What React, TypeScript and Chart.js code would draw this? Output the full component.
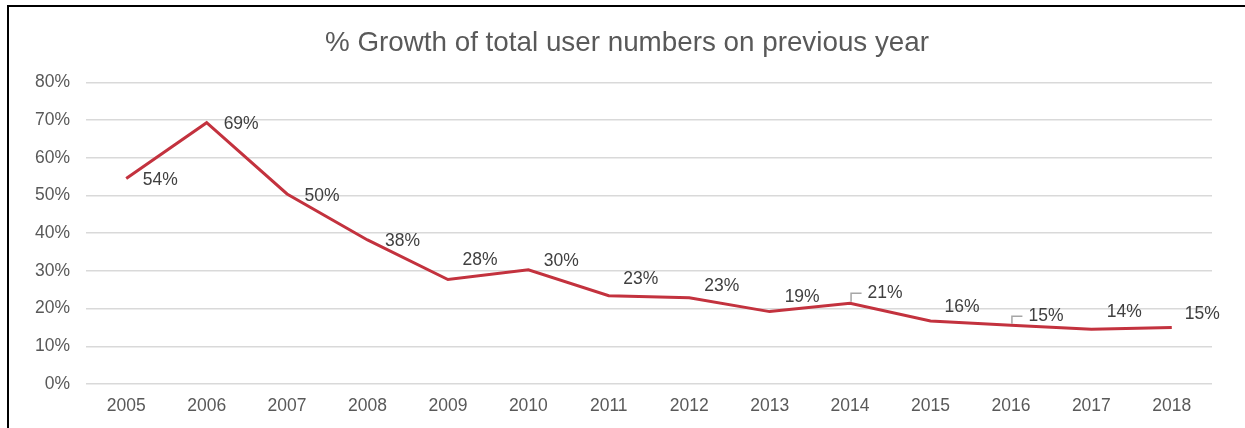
import React, { useEffect, useRef } from "react";
import { Chart, registerables } from "chart.js";

Chart.register(...registerables);

const years = ["2005", "2006", "2007", "2008", "2009", "2010", "2011", "2012", "2013", "2014", "2015", "2016", "2017", "2018"];
const growth = [54.5, 69.3, 50.4, 38.2, 27.7, 30.3, 23.4, 22.9, 19.2, 21.4, 16.7, 15.6, 14.5, 15.0];
const labels = ["54%", "69%", "50%", "38%", "28%", "30%", "23%", "23%", "19%", "21%", "16%", "15%", "14%", "15%"];
const titleText = "% Growth of total user numbers on previous year";

// label placement relative to each point (dx, dy), and which labels use a leader line
const labelDx = [34, 34.5, 35, 35, 32, 33, 32, 32.5, 32.5, 35, 31.6, 35, 33, 30.4];
const labelDy = [2, 1, 2, 1, -19, -9, -17, -11.6, -14.5, -10, -14, -9, -17, -13.4];
const leaderIdx = [9, 11];

const FONT = "'Liberation Sans', Arial, sans-serif";

const labelPlugin = {
  id: "pointLabels",
  afterDatasetsDraw(chart: any) {
    const ctx = chart.ctx;
    const meta = chart.getDatasetMeta(0);
    ctx.save();
    ctx.font = `17.5px ${FONT}`;
    ctx.textAlign = "center";
    ctx.textBaseline = "middle";
    meta.data.forEach((pt: any, i: number) => {
      const lx = pt.x + labelDx[i];
      const ly = pt.y + labelDy[i];
      if (leaderIdx.includes(i)) {
        const w = ctx.measureText(labels[i]).width;
        ctx.strokeStyle = "#a6a6a6";
        ctx.lineWidth = 1.5;
        ctx.beginPath();
        ctx.moveTo(pt.x + 1, pt.y - 1.5);
        ctx.lineTo(pt.x + 1, ly);
        ctx.lineTo(lx - w / 2 - 6, ly);
        ctx.stroke();
      }
      ctx.fillStyle = "#404040";
      ctx.fillText(labels[i], lx, ly);
    });
    ctx.restore();
  },
};

export default function App() {
  const ref = useRef<HTMLCanvasElement | null>(null);

  useEffect(() => {
    if (!ref.current) return;
    const chart = new Chart(ref.current, {
      type: "line",
      data: {
        labels: years,
        datasets: [
          {
            data: growth,
            borderColor: "#C3323E",
            borderWidth: 3,
            pointRadius: 0,
            tension: 0,
            fill: false,
            yAxisID: "y",
          },
        ],
      },
      options: {
        responsive: false,
        animation: false,
        layout: { padding: 0 },
        plugins: {
          legend: { display: false },
          tooltip: { enabled: false },
          title: {
            display: true,
            text: titleText,
            color: "#595959",
            font: { family: FONT, size: 27.8, weight: "normal" },
            padding: { top: 20, bottom: 22 },
          },
        },
        scales: {
          x: {
            type: "category",
            offset: true,
            grid: { display: false, drawTicks: false },
            border: { display: false },
            ticks: {
              color: "#595959",
              font: { family: FONT, size: 17.5 },
              padding: 11.5,
              maxRotation: 0,
              autoSkip: false,
            },
            afterFit: (s: any) => {
              s.height = 44;
            },
          },
          y: {
            position: "left",
            min: 0,
            max: 80,
            grid: { color: "#d9d9d9", lineWidth: 1.5, drawTicks: false },
            border: { display: false },
            ticks: {
              stepSize: 10,
              color: "#595959",
              font: { family: FONT, size: 17.5 },
              padding: 16,
              callback: (v: any) => `${v}%`,
            },
            afterFit: (s: any) => {
              s.width = 77;
            },
          },
          yRight: {
            position: "right",
            display: true,
            min: 0,
            max: 80,
            grid: { display: false, drawTicks: false },
            border: { display: false },
            ticks: { display: false },
            afterFit: (s: any) => {
              s.width = 33;
            },
          },
        },
      },
      plugins: [labelPlugin],
    });
    return () => chart.destroy();
  }, []);

  return (
    <div
      style={{
        position: "absolute",
        left: 7,
        top: 5,
        width: 1238,
        height: 423,
        borderLeft: "2px solid #000",
        borderTop: "2px solid #000",
        boxSizing: "border-box",
        background: "#fff",
      }}
    >
      <canvas ref={ref} width={1236} height={421} style={{ display: "block" }} />
    </div>
  );
}
